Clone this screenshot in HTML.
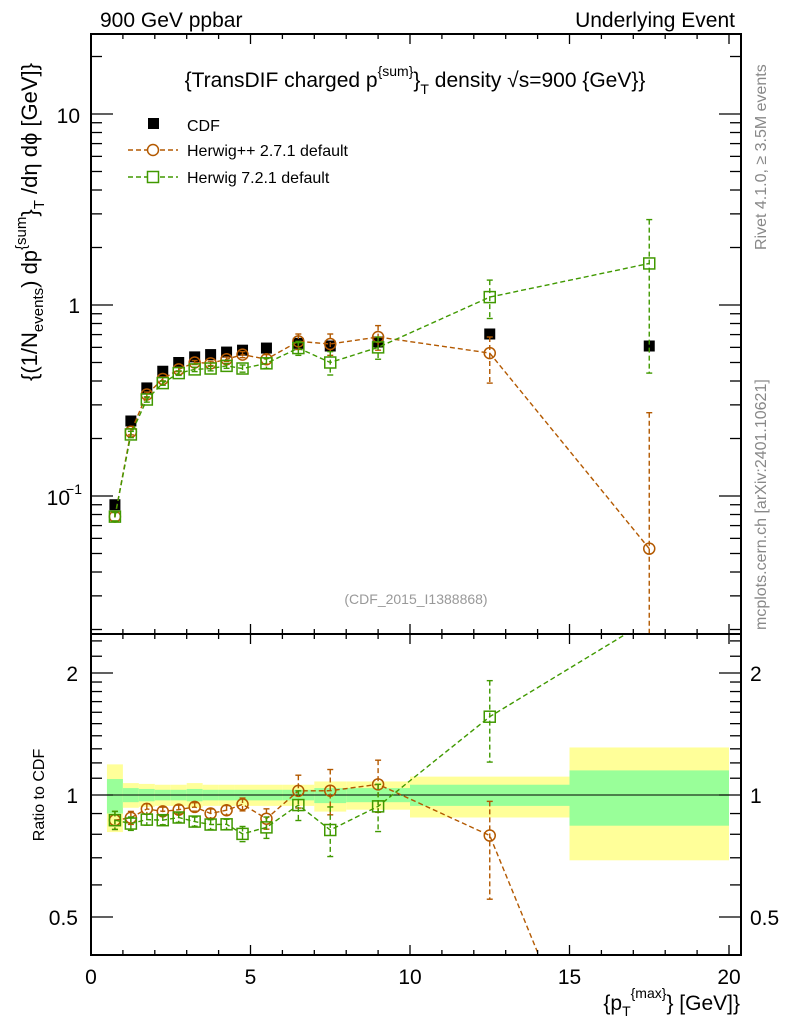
<!DOCTYPE html>
<html><head><meta charset="utf-8"><style>
body{margin:0;background:#fff;overflow:hidden}
svg{display:block;font-family:"Liberation Sans",sans-serif}
</style></head><body>
<svg id="c" width="786" height="1024" viewBox="0 0 786 1024"></svg>
<script>
const xs=[0.75,1.25,1.75,2.25,2.75,3.25,3.75,4.25,4.75,5.5,6.5,7.5,9,12.5,17.5];
const binLo=[0.5,1,1.5,2,2.5,3,3.5,4,4.5,5,6,7,8,10,15];
const binHi=[1,1.5,2,2.5,3,3.5,4,4.5,5,6,7,8,10,15,20];
const cdf=[0.09,0.247,0.368,0.45,0.50,0.535,0.55,0.567,0.58,0.595,0.63,0.61,0.64,0.705,0.61];
const yelLo=[0.81,0.93,0.935,0.94,0.94,0.93,0.94,0.94,0.94,0.94,0.94,0.91,0.92,0.88,0.69];
const yelHi=[1.19,1.07,1.065,1.06,1.06,1.07,1.06,1.06,1.06,1.06,1.06,1.08,1.08,1.11,1.31];
const grnLo=[0.90,0.96,0.965,0.97,0.97,0.965,0.97,0.97,0.97,0.97,0.97,0.955,0.96,0.94,0.84];
const grnHi=[1.095,1.04,1.035,1.03,1.03,1.035,1.03,1.03,1.03,1.03,1.03,1.04,1.04,1.06,1.15];
const hpp=[0.078,0.217,0.34,0.41,0.46,0.50,0.495,0.52,0.55,0.52,0.645,0.625,0.68,0.56,0.053];
const hppErrLo=[0.004,0.008,0.01,0.01,0.012,0.012,0.013,0.014,0.02,0.03,0.06,0.08,0.10,0.17,0.053];
const hppErrHi=[0.004,0.008,0.01,0.01,0.012,0.012,0.013,0.014,0.02,0.03,0.06,0.08,0.10,0.12,0.22];
const h7=[0.078,0.21,0.32,0.39,0.44,0.46,0.465,0.48,0.465,0.495,0.595,0.50,0.60,1.10,1.65];
const h7ErrLo=[0.004,0.008,0.01,0.01,0.012,0.012,0.013,0.014,0.02,0.03,0.05,0.07,0.08,0.25,1.21];
const h7ErrHi=[0.004,0.008,0.01,0.01,0.012,0.012,0.013,0.014,0.02,0.03,0.05,0.07,0.08,0.25,1.15];
const xTicks=[0,5,10,15,20];
const ratioTicks=[[0.5,"0.5"],[1,"1"],[2,"2"]];

const L=91,R=741,T=34,MB=634,RB=955;
const X=v=>L+v*31.9;
const Y=v=>305-191*Math.log10(v);
const RY=v=>795-122*Math.log2(v);
const svg=document.getElementById('c');
const NS='http://www.w3.org/2000/svg';
function el(tag,attrs,parent){const e=document.createElementNS(NS,tag);for(const k in attrs)e.setAttribute(k,attrs[k]);(parent||svg).appendChild(e);return e;}
function txt(s,x,y,size,anchor,fill,parent,rot){const t=el('text',{x:x,y:y,'font-size':size,'text-anchor':anchor||'start',fill:fill||'#000'},parent);if(rot)t.setAttribute('transform',rot);t.textContent=s;return t;}

const defs=el('defs',{});
const cm=el('clipPath',{id:'cm'},defs);el('rect',{x:L,y:T,width:R-L,height:MB-T},cm);
const cr=el('clipPath',{id:'cr'},defs);el('rect',{x:L,y:MB,width:R-L,height:RB-MB},cr);

const bands=el('g',{'clip-path':'url(#cr)'});


for(let i=0;i<binLo.length;i++){
  const r1=el('rect',{x:X(binLo[i]),y:RY(yelHi[i]),width:X(binHi[i])-X(binLo[i]),height:RY(yelLo[i])-RY(yelHi[i]),fill:'#ffff99'},bands);
  
  
  const r2=el('rect',{x:X(binLo[i]),y:RY(grnHi[i]),width:X(binHi[i])-X(binLo[i]),height:RY(grnLo[i])-RY(grnHi[i]),fill:'#99ff99'},bands);
  
  
}
el('line',{x1:L,x2:R,y1:RY(1),y2:RY(1),stroke:'#000','stroke-width':1});

function series(vals,lo,hi,color,shape,name,ratio){
  const g=el('g',{'clip-path':ratio?'url(#cr)':'url(#cm)'});
  
  
  const f=ratio?(i,v)=>RY(v/cdf[i]):(i,v)=>Y(v);
  const pts=vals.map((v,i)=>X(xs[i])+','+f(i,v)).join(' ');
  el('polyline',{points:pts,fill:'none',stroke:color,'stroke-width':1.4,'stroke-dasharray':'5,3'},g);
  vals.forEach((v,i)=>{
    const x=X(xs[i]),y=f(i,v);
    if(ratio&&(y<MB||y>RB))return;
    const yl=f(i,Math.max(v-lo[i],1e-4)),yh=f(i,v+hi[i]);
    el('line',{x1:x,x2:x,y1:yh,y2:yl,stroke:color,'stroke-width':1.4,'stroke-dasharray':'5,3'},g);
    el('line',{x1:x-3,x2:x+3,y1:yh,y2:yh,stroke:color,'stroke-width':1.4},g);
    el('line',{x1:x-3,x2:x+3,y1:yl,y2:yl,stroke:color,'stroke-width':1.4},g);
    let m;
    if(shape==='c')m=el('circle',{cx:x,cy:y,r:5.5,fill:'none',stroke:color,'stroke-width':1.5},g);
    else m=el('rect',{x:x-5.5,y:y-5.5,width:11,height:11,fill:'none',stroke:color,'stroke-width':1.5},g);
    
    
  });
}
const cg=el('g',{'clip-path':'url(#cm)'});


cdf.forEach((v,i)=>{
  const r=el('rect',{x:X(xs[i])-5.5,y:Y(v)-5.5,width:11,height:11,fill:'#000'},cg);
  
  
});
series(hpp,hppErrLo,hppErrHi,'#b35900','c','herwigpp-series',false);
series(h7,h7ErrLo,h7ErrHi,'#409900','s','herwig7-series',false);
series(hpp,hppErrLo,hppErrHi,'#b35900','c','herwigpp-ratio',true);
series(h7,h7ErrLo,h7ErrHi,'#409900','s','herwig7-ratio',true);

el('rect',{x:L,y:T,width:R-L,height:MB-T,fill:'none',stroke:'#000','stroke-width':2});
el('rect',{x:L,y:MB,width:R-L,height:RB-MB,fill:'none',stroke:'#000','stroke-width':2});

for(let v=0;v<=20;v++){
  const x=X(v),len=v%5===0?10:5;
  [MB,RB].forEach(yb=>el('line',{x1:x,x2:x,y1:yb,y2:yb-len,stroke:'#000','stroke-width':1.3}));
  el('line',{x1:x,x2:x,y1:T,y2:T+len,stroke:'#000','stroke-width':1.3});
  el('line',{x1:x,x2:x,y1:MB,y2:MB+len,stroke:'#000','stroke-width':1.3});
}
xTicks.forEach(v=>txt(String(v),X(v),984,21,'middle'));
for(let d=-2;d<=1;d++)for(let k=1;k<=9;k++){
  const v=k*Math.pow(10,d),y=Y(v);if(y<T||y>MB)continue;
  const len=k===1?22:11;
  el('line',{x1:L,x2:L+len,y1:y,y2:y,stroke:'#000','stroke-width':1.3});
  el('line',{x1:R,x2:R-len,y1:y,y2:y,stroke:'#000','stroke-width':1.3});
}
txt('10',80,123,21,'end');
txt('1',80,313,21,'end');
txt('10',70,505,21,'end');
txt('\u22121',82,494,14,'end');
const rminor=[0.5,0.6,0.7,0.8,0.9,1,1.1,1.2,1.3,1.4,1.5,1.6,1.7,1.8,1.9,2,2.2,2.4];
rminor.forEach(v=>{
  const y=RY(v);if(y<MB||y>RB)return;
  const big=(v===0.5||v===1||v===2);const len=big?22:11;
  el('line',{x1:L,x2:L+len,y1:y,y2:y,stroke:'#000','stroke-width':1.3});
  el('line',{x1:R,x2:R-len,y1:y,y2:y,stroke:'#000','stroke-width':1.3});
});
ratioTicks.forEach(([v,s])=>{txt(s,78,RY(v)+8,21,'end');txt(s,750,RY(v)+8,21,'start');});

txt('900 GeV ppbar',100,27,21,'start');
txt('Underlying Event',735,27,21,'end');
const title=el('text',{x:415,y:87,'font-size':21,'text-anchor':'middle'});


title.innerHTML='{TransDIF charged p<tspan dy="-11" font-size="14">{sum}</tspan><tspan dy="11">}</tspan><tspan dy="7" font-size="14">T</tspan><tspan dy="-7"> density √s=900 {GeV}}</tspan>';
const yl=el('text',{x:0,y:0,'font-size':22,'text-anchor':'start',transform:'translate(37,381) rotate(-90)'});


yl.innerHTML='{(1/N<tspan dy="6" font-size="15">events</tspan><tspan dy="-6">) dp</tspan><tspan dy="-11" font-size="15">{sum</tspan><tspan dy="11">}</tspan><tspan dy="7" font-size="15">T</tspan><tspan dy="-7"> /dη  dϕ [GeV]}</tspan>';
txt('Ratio to CDF',44,795,16,'middle','#000',null,'rotate(-90 44 795)');
const xl=el('text',{x:740,y:1010,'font-size':21,'text-anchor':'end'});


xl.innerHTML='{p<tspan dy="6" font-size="14">T</tspan><tspan dy="-18" font-size="14">{max}</tspan><tspan dy="12">} [GeV]}</tspan>';
txt('(CDF_2015_I1388868)',416,604,14,'middle','#999');
txt('Rivet 4.1.0, ≥ 3.5M events',766,250,16,'start','#888',null,'rotate(-90 766 250)');
txt('mcplots.cern.ch [arXiv:2401.10621]',766,630,16,'start','#888',null,'rotate(-90 766 630)');

const lg=el('g',{});


el('rect',{x:148,y:118,width:11,height:11,fill:'#000'},lg);
txt('CDF',187,131,16,'start','#000',lg);
el('line',{x1:128,x2:178,y1:150,y2:150,stroke:'#b35900','stroke-width':1.4,'stroke-dasharray':'5,3'},lg);
el('circle',{cx:153,cy:150,r:5.5,fill:'#fff',stroke:'#b35900','stroke-width':1.5},lg);
txt('Herwig++ 2.7.1 default',187,156,16,'start','#000',lg);
el('line',{x1:128,x2:178,y1:177,y2:177,stroke:'#409900','stroke-width':1.4,'stroke-dasharray':'5,3'},lg);
el('rect',{x:147.5,y:171.5,width:11,height:11,fill:'#fff',stroke:'#409900','stroke-width':1.5},lg);
txt('Herwig 7.2.1 default',187,183,16,'start','#000',lg);
</script>
</body></html>
